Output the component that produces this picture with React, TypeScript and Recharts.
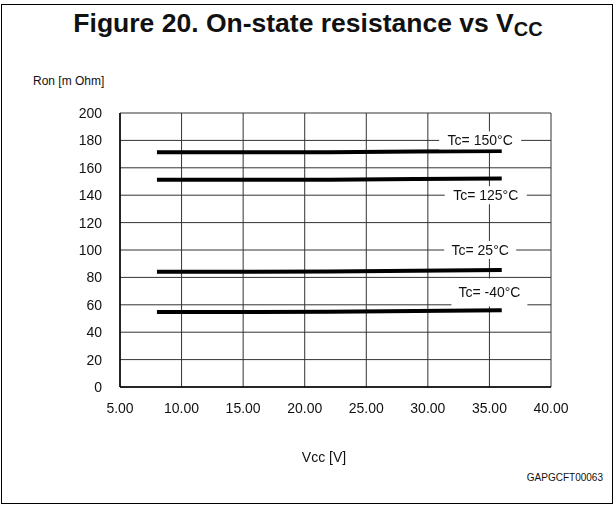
import {
  CartesianGrid,
  Line,
  LineChart,
  ReferenceDot,
  XAxis,
  YAxis,
} from "recharts";

const VCC_TICKS = [5, 10, 15, 20, 25, 30, 35, 40];
const RON_TICKS = [0, 20, 40, 60, 80, 100, 120, 140, 160, 180, 200];

const VCC_POINTS = [8, 15, 22, 29, 36];
const RON_150 = [171.3, 171.3, 171.4, 171.9, 172.3];
const RON_125 = [151.2, 151.2, 151.3, 151.8, 152.2];
const RON_25 = [84.2, 84.2, 84.3, 84.9, 85.4];
const RON_M40 = [54.8, 54.8, 54.9, 55.5, 56.0];

const SERIES = [
  { key: "t150", values: RON_150 },
  { key: "t125", values: RON_125 },
  { key: "t25", values: RON_25 },
  { key: "tm40", values: RON_M40 },
];

const CURVE_LABELS = [
  { text: "Tc= 150°C", vcc: 34.25, ron: 180, w: 82, h: 18 },
  { text: "Tc= 125°C", vcc: 34.7, ron: 140, w: 82, h: 18 },
  { text: "Tc= 25°C", vcc: 34.25, ron: 100, w: 72, h: 18 },
  { text: "Tc= -40°C", vcc: 35.0, ron: 69, w: 76, h: 28 },
];

const FONT = "'Liberation Sans', Arial, sans-serif";

function toRows(values: number[]) {
  return VCC_POINTS.map((vcc, i) => ({ vcc, ron: values[i] }));
}

function CurveLabel(props: any) {
  const { viewBox, text, w, h } = props;
  if (!viewBox) return null;
  const cx = viewBox.x + (viewBox.width ?? 0) / 2;
  const cy = viewBox.y + (viewBox.height ?? 0) / 2;
  return (
    <g>
      <rect x={cx - w / 2} y={cy - h / 2} width={w} height={h} fill="#fff" />
      <text
        x={cx}
        y={cy}
        textAnchor="middle"
        dominantBaseline="central"
        fontFamily={FONT}
        fontSize={14}
        fill="#111"
      >
        {text}
      </text>
    </g>
  );
}

export default function App() {
  return (
    <div
      style={{
        position: "fixed",
        left: 0,
        top: 0,
        width: 615,
        height: 506,
        background: "#fff",
        fontFamily: FONT,
      }}
    >
      <div
        style={{
          position: "absolute",
          left: 1,
          top: 4,
          width: 610,
          height: 498,
          border: "1.5px solid #000",
        }}
      />
      <svg
        width={615}
        height={50}
        style={{ position: "absolute", left: 0, top: 0 }}
      >
        <text
          x={308}
          y={32}
          textAnchor="middle"
          fontFamily={FONT}
          fontWeight="bold"
          fontSize={26.5}
          fill="#111"
        >
          Figure 20. On-state resistance vs V
          <tspan dy={4} fontSize={20}>
            CC
          </tspan>
        </text>
      </svg>
      <div style={{ position: "absolute", left: 33, top: 74, fontSize: 12, color: "#111" }}>
        Ron [m Ohm]
      </div>
      <div style={{ position: "absolute", left: 0, width: 648, top: 449, textAlign: "center", fontSize: 14, color: "#111" }}>
        Vcc [V]
      </div>
      <div style={{ position: "absolute", right: 12, top: 472, fontSize: 10, color: "#111" }}>
        GAPGCFT00063
      </div>
      <div style={{ position: "absolute", left: 0, top: 0 }}>
        <LineChart
          width={615}
          height={506}
          margin={{ top: 113, right: 64, bottom: 89, left: 0 }}
        >
          <CartesianGrid stroke="#333" strokeWidth={1} />
          <XAxis
            type="number"
            dataKey="vcc"
            domain={[5, 40]}
            ticks={VCC_TICKS}
            tickFormatter={(v: number) => v.toFixed(2)}
            tickLine={false}
            axisLine={{ stroke: "#000", strokeWidth: 1.5 }}
            tick={{ fill: "#111", fontSize: 14, fontFamily: FONT }}
            tickMargin={10}
            height={30}
            allowDuplicatedCategory={false}
          />
          <YAxis
            type="number"
            domain={[0, 200]}
            ticks={RON_TICKS}
            tickLine={false}
            axisLine={{ stroke: "#000", strokeWidth: 1.5 }}
            tick={{ fill: "#111", fontSize: 14, fontFamily: FONT }}
            tickMargin={12}
            width={120}
          />
          {SERIES.map((s) => (
            <Line
              key={s.key}
              data={toRows(s.values)}
              dataKey="ron"
              type="linear"
              stroke="#000"
              strokeWidth={4}
              dot={false}
              isAnimationActive={false}
            />
          ))}
          {CURVE_LABELS.map((l) => (
            <ReferenceDot
              key={l.text}
              x={l.vcc}
              y={l.ron}
              r={1}
              fill="none"
              stroke="none"
              label={<CurveLabel text={l.text} w={l.w} h={l.h} />}
            />
          ))}
        </LineChart>
      </div>
    </div>
  );
}
